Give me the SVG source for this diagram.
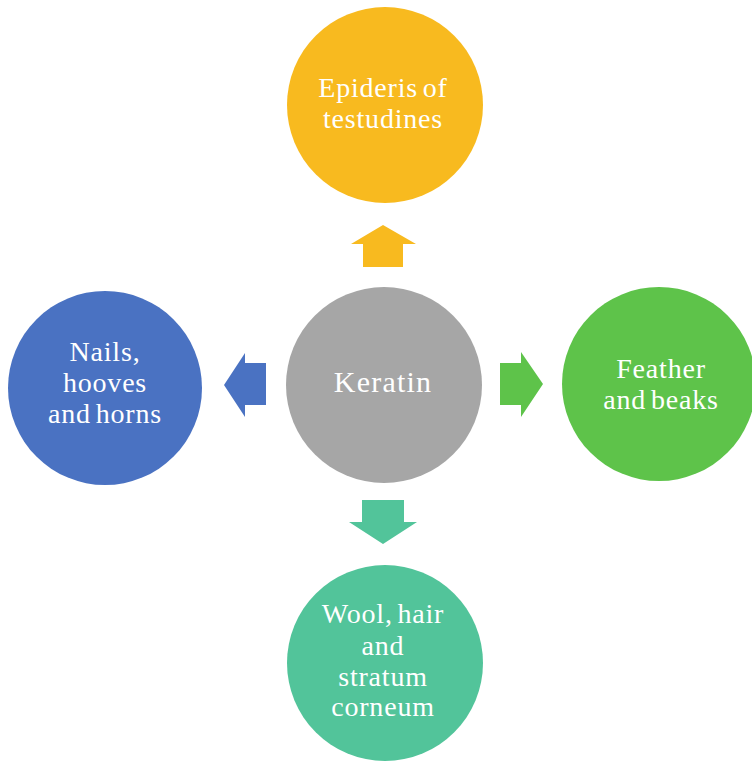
<svg xmlns="http://www.w3.org/2000/svg" width="752" height="761" viewBox="0 0 752 761">
<style>
.lbl{font-family:"Liberation Serif","Times New Roman",serif;font-size:28px;fill:#ffffff;text-anchor:middle;letter-spacing:0.8px;word-spacing:-3px}
.big{font-size:30px;letter-spacing:1.2px}
</style>
<rect width="752" height="761" fill="#ffffff"/>
<g id="connectors">
<polygon id="arrow-up" points="383,225 416,244 403,244 403,267 363,267 363,244 351,244" fill="#F8BA1F"/>
<polygon id="arrow-left" points="224,385 245,353 245,363 266,363 266,405 245,405 245,417" fill="#4A72C2"/>
<polygon id="arrow-right" points="543,384 521,352 521,363 500,363 500,405 521,405 521,417" fill="#5EC34A"/>
<polygon id="arrow-down" points="383,544 417,522 404,522 404,500 362,500 362,522 349,522" fill="#52C49A"/>
</g>
<g id="node-keratin">
<circle cx="384" cy="385" r="98" fill="#A6A6A6"/>
<text class="lbl big" x="383" y="392">Keratin</text>
</g>
<g id="node-epidermis">
<circle cx="385" cy="105" r="98" fill="#F8BA1F"/>
<text class="lbl" x="383" y="97">Epideris of</text>
<text class="lbl" x="383" y="128">testudines</text>
</g>
<g id="node-nails">
<circle cx="105" cy="388" r="97" fill="#4A72C2"/>
<text class="lbl" x="105" y="361">Nails,</text>
<text class="lbl" x="105" y="392">hooves</text>
<text class="lbl" x="105" y="423">and horns</text>
</g>
<g id="node-feather">
<circle cx="659" cy="384" r="97" fill="#5EC34A"/>
<text class="lbl" x="661" y="378">Feather</text>
<text class="lbl" x="661" y="409">and beaks</text>
</g>
<g id="node-wool">
<circle cx="385" cy="663" r="98" fill="#52C49A"/>
<text class="lbl" x="383" y="623">Wool, hair</text>
<text class="lbl" x="383" y="655">and</text>
<text class="lbl" x="383" y="686">stratum</text>
<text class="lbl" x="383" y="716">corneum</text>
</g>
</svg>
